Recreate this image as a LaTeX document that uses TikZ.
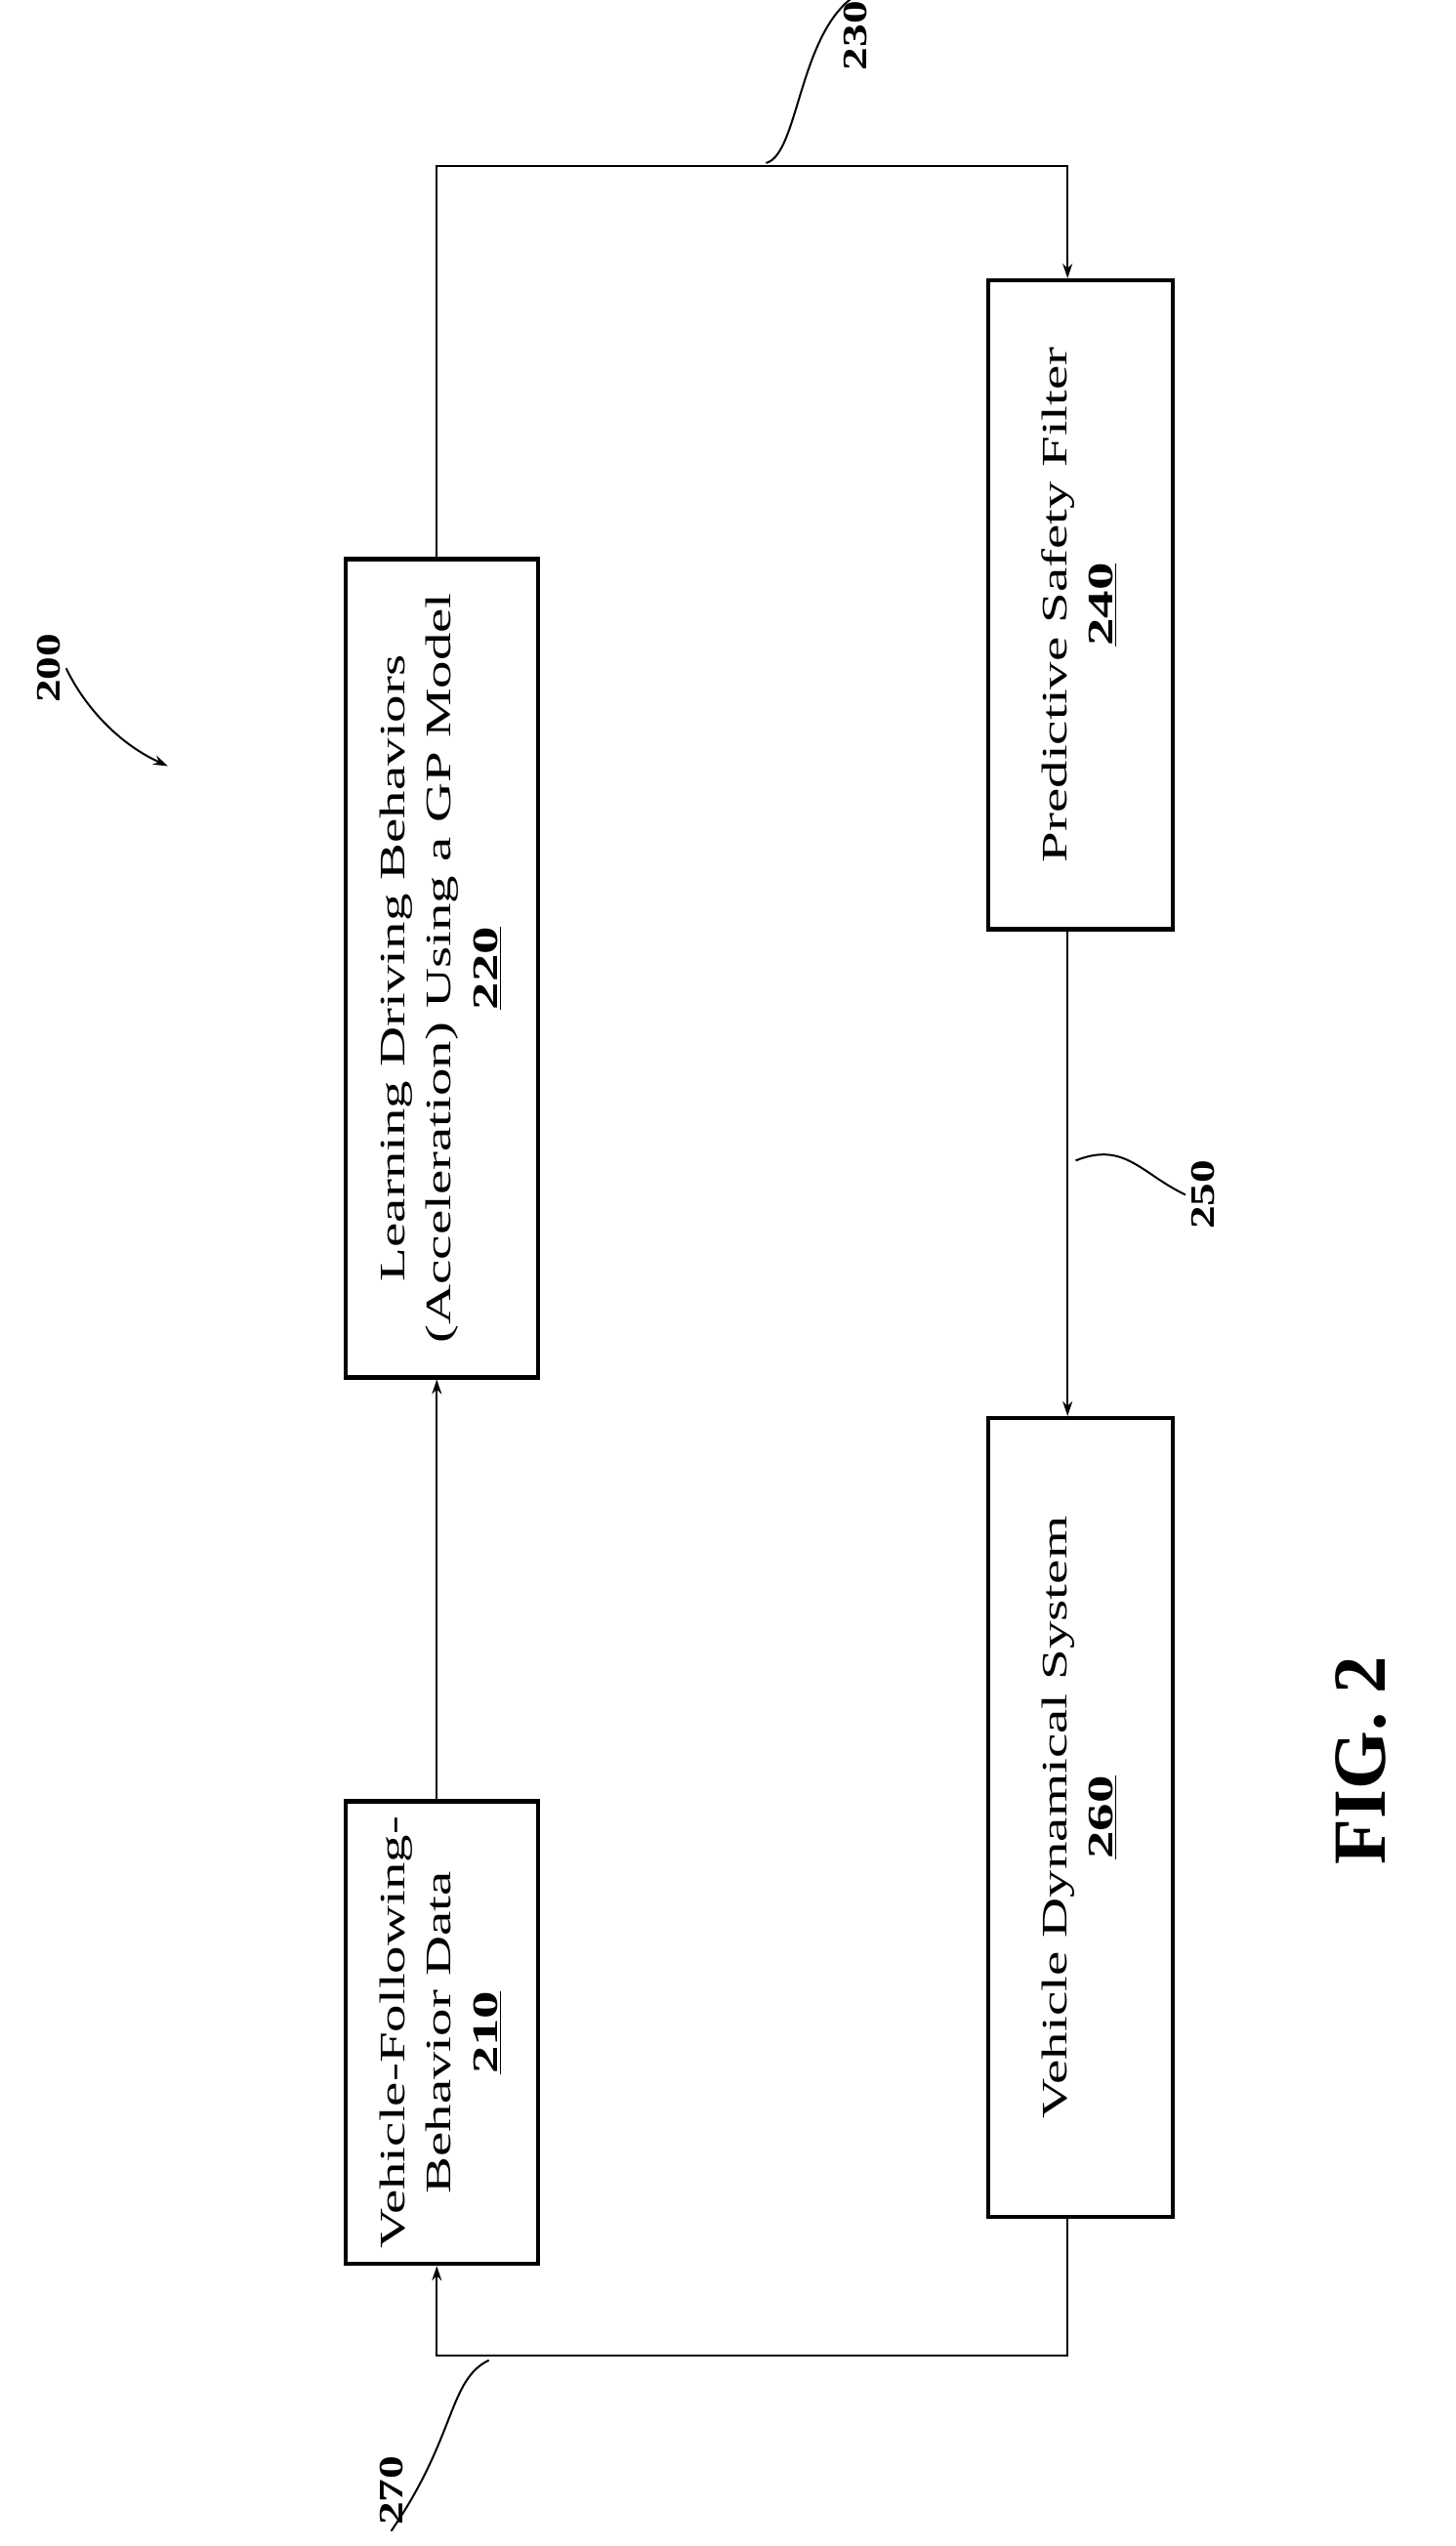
\documentclass[tikz,border=0pt]{standalone}
\usepackage{fontspec}
\usepackage{graphicx}
\setmainfont{Liberation Serif}
\usetikzlibrary{arrows.meta}
\newcommand{\boxtext}[1]{\rotatebox{90}{\scalebox{1.55}[1]{\begin{tabular}{c}#1\end{tabular}}}}
\newcommand{\labtext}[1]{\scalebox{1.35}[1]{#1}}
\begin{document}
\begin{tikzpicture}[x=1pt,y=-1pt,
  box/.style={draw,line width=2.6pt,inner sep=0pt,font=\fontsize{22}{28.5}\selectfont,align=center},
  con/.style={line width=1.2pt},
  arr/.style={con,-{Stealth[length=9pt,width=6pt]}},
  lab/.style={font=\bfseries\fontsize{21}{24}\selectfont,rotate=90}]
\useasboundingbox (0,0) rectangle (893,1562);
\node[box,minimum width=118pt,minimum height=502pt] (b220) at (271,594)
  {\boxtext{Learning Driving Behaviors\\(Acceleration) Using a GP Model\\\underline{\textbf{220}}}};
\node[box,minimum width=118pt,minimum height=275pt] (b210) at (271,1247)
  {\boxtext{Vehicle-Following-\\Behavior Data\\\underline{\textbf{210}}}};
\node[box,minimum width=113pt,minimum height=398pt] (b240) at (663,371)
  {\boxtext{Predictive Safety Filter\\\underline{\textbf{240}}}};
\node[box,minimum width=113pt,minimum height=490pt] (b260) at (663,1115)
  {\boxtext{Vehicle Dynamical System\\\underline{\textbf{260}}}};
\coordinate (t1) at (268,102); \coordinate (t2) at (655,102);
\coordinate (u1) at (655,1445); \coordinate (u2) at (268,1445);
\draw[arr] (b220.north -| t1) -- (t1) -- (t2) -- (b240.north -| t2);
\draw[arr] (b210.north -| t1) -- (b220.south -| t1);
\draw[arr] (b240.south -| t2) -- (b260.north -| t2);
\draw[arr] (b260.south -| u1) -- (u1) -- (u2) -- (b210.south -| u2);
\node[lab] (l230) at (525,22) {\labtext{230}};
\draw[con] (l230.east) .. controls (490,20) and (490,95) .. (470,100);
\node[lab] (l250) at (738,733) {\labtext{250}};
\draw[con] (l250.north) .. controls (700,720) and (690,700) .. (660,712);
\node[lab] (l270) at (240,1528) {\labtext{270}};
\draw[con] (l270.west) .. controls (280,1495) and (275,1460) .. (300,1448);
\node[lab] (l200) at (30,410) {\labtext{200}};
\coordinate (a200) at (103,470);
\draw[arr] (l200.south) .. controls (50,430) and (70,455) .. (a200);
\node[font=\bfseries\fontsize{46}{50}\selectfont,rotate=90] (fig) at (835,1080) {FIG. 2};
\end{tikzpicture}
\end{document}
